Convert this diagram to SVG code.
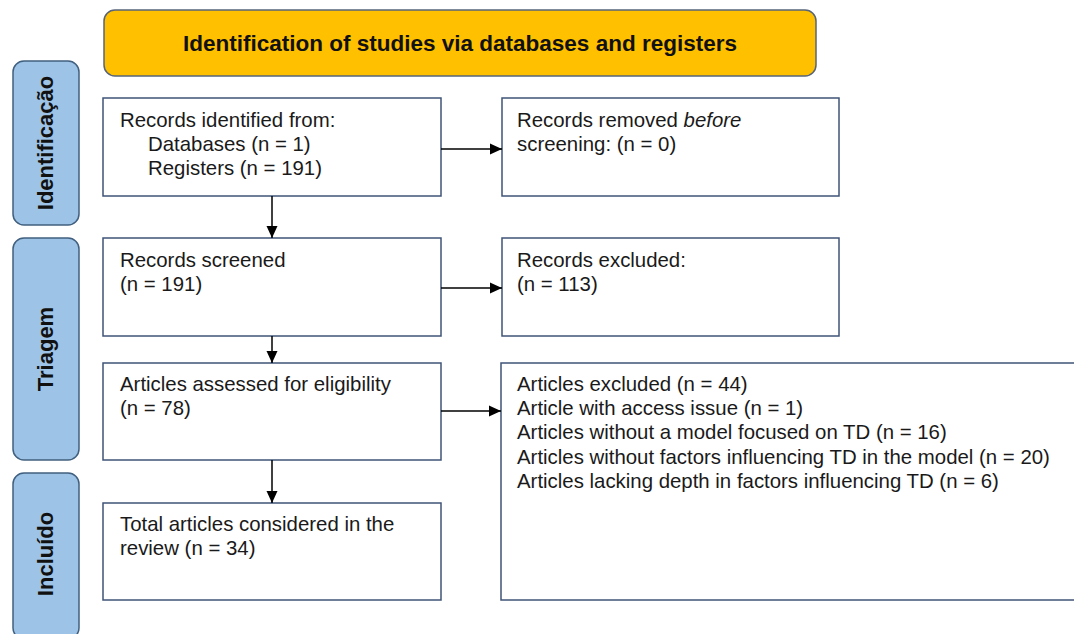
<svg xmlns="http://www.w3.org/2000/svg" width="1074" height="634" viewBox="0 0 1074 634">
<defs>
<style>
.box{fill:#ffffff;stroke:#3f5478;stroke-width:1.5}
.hdr{fill:#ffc000;stroke:#56647a;stroke-width:1.5}
.side{fill:#9dc3e6;stroke:#41607f;stroke-width:1.5}
.t{font-family:"Liberation Sans",Arial,sans-serif;font-size:20.4px;fill:#1a1a1a}
.b{font-family:"Liberation Sans",Arial,sans-serif;font-size:22px;font-weight:bold;fill:#111111}
.c{stroke:#000000;stroke-width:1.5;fill:none}
</style>
<marker id="ah" markerWidth="12" markerHeight="12" viewBox="0 0 12 12" refX="12" refY="6" orient="auto" markerUnits="userSpaceOnUse">
<path d="M0,0.5 L12,6 L0,11.5 Z" fill="#000000"/>
</marker>
</defs>
<rect width="1074" height="634" fill="#ffffff"/>

<g id="header">
<rect class="hdr" x="104" y="10" width="712" height="66" rx="11"/>
<text class="b" x="460" y="51" text-anchor="middle" style="font-size:22.5px">Identification of studies via databases and registers</text>
</g>

<g id="side-identificacao">
<rect class="side" x="13" y="61" width="66" height="164" rx="11"/>
<text class="b" transform="translate(53,143) rotate(-90)" text-anchor="middle">Identificação</text>
</g>
<g id="side-triagem">
<rect class="side" x="13" y="238" width="66" height="222" rx="11"/>
<text class="b" transform="translate(53,349) rotate(-90)" text-anchor="middle">Triagem</text>
</g>
<g id="side-incluido">
<rect class="side" x="13" y="473" width="66" height="166" rx="11"/>
<text class="b" transform="translate(53,554) rotate(-90)" text-anchor="middle">Incluído</text>
</g>

<g id="records-identified">
<rect class="box" x="103" y="98" width="338" height="98"/>
<text class="t" x="120" y="127">Records identified from:</text>
<text class="t" x="148" y="151">Databases (n = 1)</text>
<text class="t" x="148" y="175">Registers (n = 191)</text>
</g>

<g id="records-removed">
<rect class="box" x="502" y="98" width="337" height="98"/>
<text class="t" x="517" y="127">Records removed <tspan font-style="italic">before</tspan></text>
<text class="t" x="517" y="151">screening: (n = 0)</text>
</g>

<g id="records-screened">
<rect class="box" x="103" y="238" width="338" height="98"/>
<text class="t" x="120" y="267">Records screened</text>
<text class="t" x="120" y="291">(n = 191)</text>
</g>

<g id="records-excluded">
<rect class="box" x="502" y="238" width="337" height="98"/>
<text class="t" x="517" y="267">Records excluded:</text>
<text class="t" x="517" y="291">(n = 113)</text>
</g>

<g id="articles-assessed">
<rect class="box" x="103" y="363" width="338" height="97"/>
<text class="t" x="120" y="391">Articles assessed for eligibility</text>
<text class="t" x="120" y="415">(n = 78)</text>
</g>

<g id="articles-excluded">
<rect class="box" x="501" y="363" width="590" height="237"/>
<text class="t" x="517" y="391">Articles excluded (n = 44)</text>
<text class="t" x="517" y="415">Article with access issue (n = 1)</text>
<text class="t" x="517" y="439">Articles without a model focused on TD (n = 16)</text>
<text class="t" x="517" y="464">Articles without factors influencing TD in the model (n = 20)</text>
<text class="t" x="517" y="488">Articles lacking depth in factors influencing TD (n = 6)</text>
</g>

<g id="total-articles">
<rect class="box" x="103" y="503" width="338" height="97"/>
<text class="t" x="120" y="531">Total articles considered in the</text>
<text class="t" x="120" y="555">review (n = 34)</text>
</g>

<g id="connectors">
<line class="c" x1="272" y1="196" x2="272" y2="238" marker-end="url(#ah)"/>
<line class="c" x1="272" y1="336" x2="272" y2="363" marker-end="url(#ah)"/>
<line class="c" x1="272" y1="460" x2="272" y2="503" marker-end="url(#ah)"/>
<line class="c" x1="441" y1="149" x2="502" y2="149" marker-end="url(#ah)"/>
<line class="c" x1="441" y1="288" x2="502" y2="288" marker-end="url(#ah)"/>
<line class="c" x1="441" y1="411" x2="501" y2="411" marker-end="url(#ah)"/>
</g>
</svg>
